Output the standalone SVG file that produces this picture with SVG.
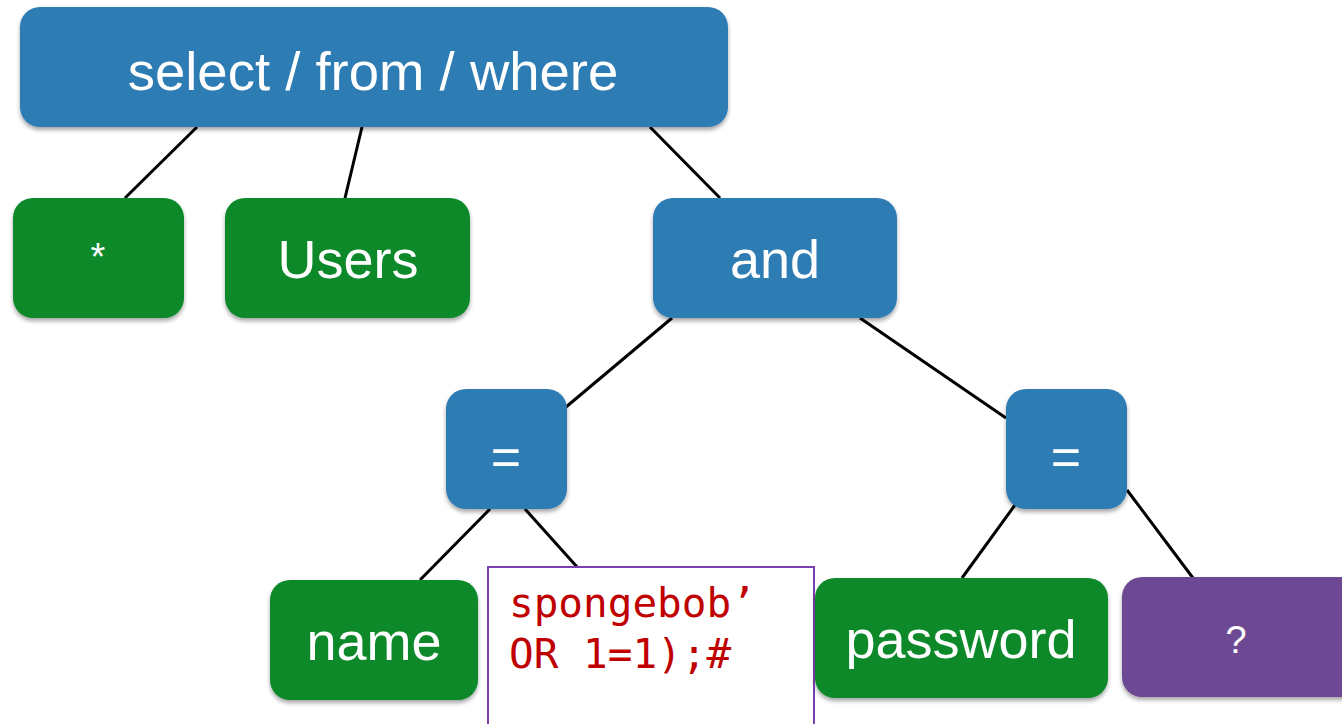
<svg xmlns="http://www.w3.org/2000/svg" width="1342" height="724" viewBox="0 0 1342 724">
  <style>
    .blue { fill: #2f7cb4; }
    .green { fill: #08892c; }
    .purple { fill: #6d4a94; }
    .box { filter: url(#shadow); }
    .lbl { font-family: "Liberation Sans", Arial, sans-serif; fill: #ffffff; text-anchor: middle; }
    .edge { stroke: #000000; stroke-width: 3; fill: none; }
    .code { font-family: "DejaVu Sans Mono", "Liberation Mono", monospace; font-size: 41px; fill: #c00000; }
  </style>
  <defs>
    <filter id="shadow" x="-10%" y="-10%" width="120%" height="130%">
      <feGaussianBlur in="SourceAlpha" stdDeviation="2"/>
      <feOffset dx="0" dy="3" result="b"/>
      <feComponentTransfer><feFuncA type="linear" slope="0.35"/></feComponentTransfer>
      <feMerge><feMergeNode/><feMergeNode in="SourceGraphic"/></feMerge>
    </filter>
  </defs>
  <rect width="1342" height="724" fill="#ffffff"/>

  <!-- tree edges -->
  <g id="connectors">
    <line class="edge" x1="197" y1="127" x2="125" y2="198"/>
    <line class="edge" x1="362" y1="127" x2="345" y2="198"/>
    <line class="edge" x1="650" y1="127" x2="720" y2="198"/>
    <line class="edge" x1="672" y1="318" x2="566" y2="407"/>
    <line class="edge" x1="860" y1="318" x2="1006" y2="418"/>
    <line class="edge" x1="490" y1="509" x2="420" y2="580"/>
    <line class="edge" x1="525" y1="509" x2="578" y2="568"/>
    <line class="edge" x1="1015" y1="505" x2="962" y2="578"/>
    <line class="edge" x1="1127" y1="490" x2="1193" y2="578"/>
  </g>

  <g id="node-select">
    <rect class="blue box" x="20" y="7" width="708" height="120" rx="20"/>
    <text class="lbl" x="373" y="90" font-size="54.5">select / from / where</text>
  </g>
  <g id="node-star">
    <rect class="green box" x="13" y="198" width="171" height="120" rx="20"/>
    <text class="lbl" x="98" y="270" font-size="38">*</text>
  </g>
  <g id="node-users">
    <rect class="green box" x="225" y="198" width="245" height="120" rx="20"/>
    <text class="lbl" x="348" y="278" font-size="54">Users</text>
  </g>
  <g id="node-and">
    <rect class="blue box" x="653" y="198" width="244" height="120" rx="20"/>
    <text class="lbl" x="775" y="278" font-size="54">and</text>
  </g>
  <g id="node-eq-left">
    <rect class="blue box" x="446" y="389" width="121" height="120" rx="20"/>
    <text class="lbl" x="506" y="475" font-size="52">=</text>
  </g>
  <g id="node-eq-right">
    <rect class="blue box" x="1006" y="389" width="121" height="120" rx="20"/>
    <text class="lbl" x="1066" y="475" font-size="52">=</text>
  </g>
  <g id="node-name">
    <rect class="green box" x="270" y="580" width="208" height="120" rx="20"/>
    <text class="lbl" x="374" y="660" font-size="54">name</text>
  </g>
  <g id="node-injection">
    <rect x="488" y="567" width="326" height="170" fill="#ffffff" stroke="#7a40b0" stroke-width="2"/>
    <text class="code" x="509" y="617">spongebob’</text>
    <text class="code" x="509" y="668">OR 1=1);#</text>
  </g>
  <g id="node-password">
    <rect class="green box" x="815" y="578" width="293" height="120" rx="20"/>
    <text class="lbl" x="961" y="658" font-size="54">password</text>
  </g>
  <g id="node-param">
    <rect class="purple box" x="1122" y="577" width="240" height="120" rx="20"/>
    <text class="lbl" x="1236" y="653" font-size="38">?</text>
  </g>
</svg>
